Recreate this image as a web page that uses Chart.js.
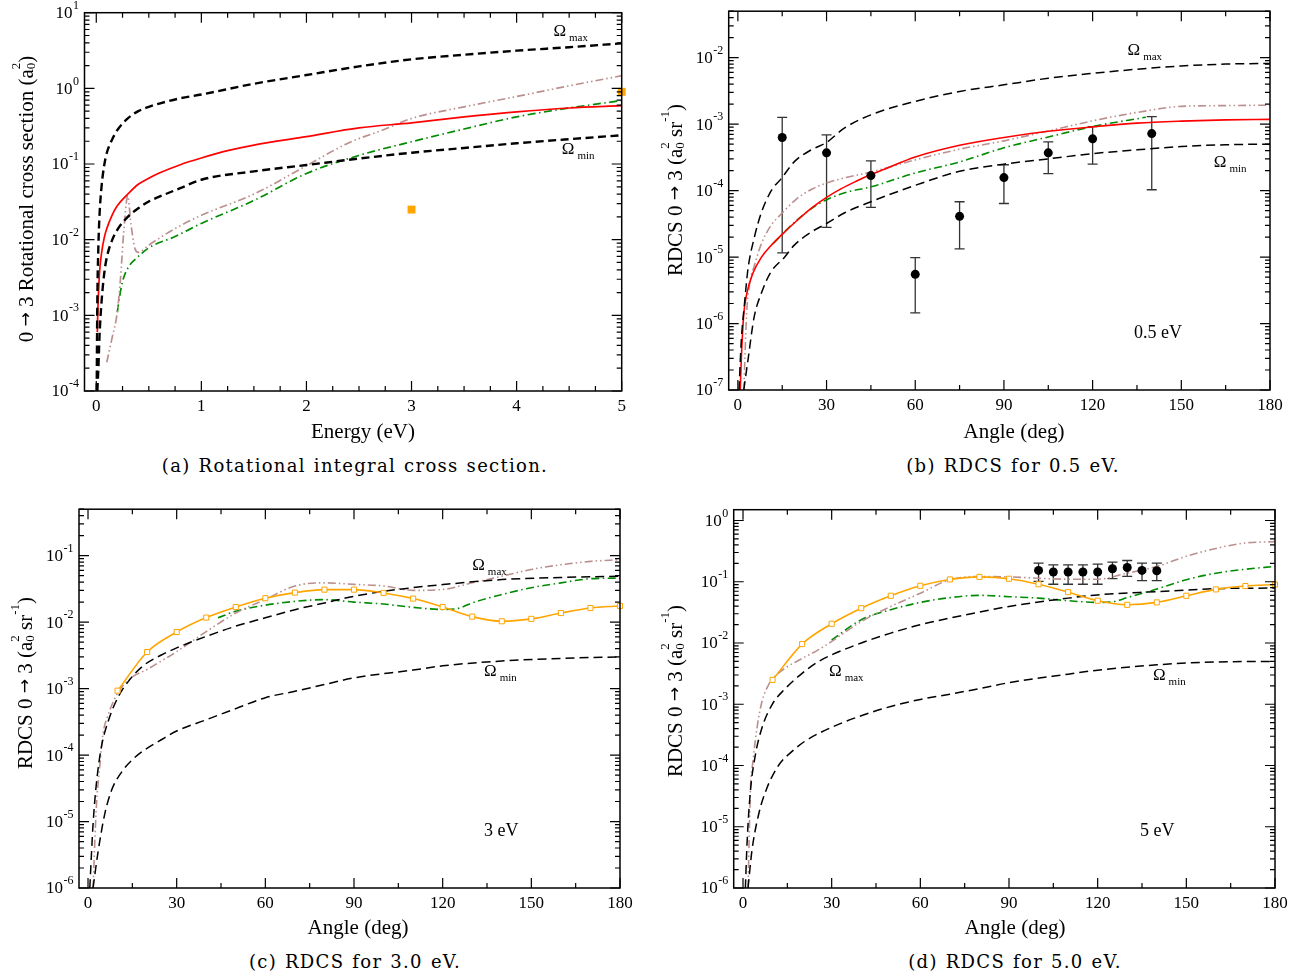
<!DOCTYPE html>
<html>
<head>
<meta charset="utf-8">
<script src="https://cdn.jsdelivr.net/npm/chart.js@4.4.1/dist/chart.umd.min.js"></script>
<style>
  body { margin: 0; background: #fff; width: 1304px; height: 978px; position: relative; overflow: hidden; }
  canvas { position: absolute; }
  .cap { position: absolute; width: 560px; text-align: center; font-family: "DejaVu Serif", serif; font-size: 18px;
         letter-spacing: 1.3px; word-spacing: 1px; color: #000; }
</style>
</head>
<body>
<canvas id="chartA" width="650" height="450" style="left:0;top:0"></canvas>
<canvas id="chartB" width="654" height="450" style="left:650px;top:0"></canvas>
<canvas id="chartC" width="650" height="460" style="left:0;top:490px"></canvas>
<canvas id="chartD" width="654" height="460" style="left:650px;top:490px"></canvas>
<div class="cap" style="left:75px;top:455px">(a) Rotational integral cross section.</div>
<div class="cap" style="left:733px;top:455px">(b) RDCS for 0.5 eV.</div>
<div class="cap" style="left:75px;top:951px">(c) RDCS for 3.0 eV.</div>
<div class="cap" style="left:735px;top:951px">(d) RDCS for 5.0 eV.</div>
<script>
// ---------- (a) integral cross section vs energy ----------
const aXTicks = [0, 1, 2, 3, 4, 5];
const aYTicks = [1e-4, 1e-3, 1e-2, 1e-1, 1e0, 1e1];
const aOmaxE = [0.004, 0.01, 0.02, 0.03, 0.05, 0.075, 0.1, 0.15, 0.2, 0.3, 0.4, 0.5, 0.6, 0.8, 1.0, 1.5, 2.0, 2.5, 3.0, 3.5, 4.0, 4.5, 5.0];
const aOmax = [1e-4, 0.0015, 0.008, 0.02, 0.05, 0.095, 0.14, 0.21, 0.28, 0.40, 0.50, 0.57, 0.63, 0.74, 0.83, 1.15, 1.5, 1.95, 2.42, 2.78, 3.15, 3.5, 3.93];
const aOminE = [0.01, 0.02, 0.03, 0.05, 0.075, 0.1, 0.15, 0.2, 0.3, 0.4, 0.5, 0.6, 0.8, 1.0, 1.5, 2.0, 2.5, 3.0, 3.5, 4.0, 4.5, 5.0];
const aOmin = [1e-4, 2e-4, 5e-4, 0.0015, 0.0035, 0.0058, 0.0098, 0.0135, 0.02, 0.026, 0.032, 0.037, 0.048, 0.062, 0.08, 0.097, 0.118, 0.141, 0.163, 0.188, 0.213, 0.24];
const aRedE = [0.01, 0.015, 0.02, 0.03, 0.05, 0.075, 0.1, 0.15, 0.2, 0.3, 0.4, 0.5, 0.6, 0.8, 1.0, 1.25, 1.5, 2.0, 2.5, 3.0, 3.5, 4.0, 4.5, 5.0];
const aRed = [6e-4, 0.0012, 0.0018, 0.0035, 0.0066, 0.0105, 0.014, 0.021, 0.028, 0.04, 0.054, 0.065, 0.076, 0.098, 0.12, 0.15, 0.178, 0.23, 0.3, 0.35, 0.42, 0.49, 0.55, 0.59];
const aPinkE = [0.1, 0.15, 0.2, 0.23, 0.26, 0.3, 0.33, 0.37, 0.4, 0.5, 0.75, 1.0, 1.5, 2.0, 2.4, 2.75, 3.0, 3.5, 4.0, 4.5, 5.0];
const aPink = [2.4e-4, 5e-4, 0.0011, 0.003, 0.012, 0.038, 0.016, 0.0075, 0.0068, 0.0085, 0.014, 0.021, 0.04, 0.095, 0.19, 0.29, 0.40, 0.57, 0.78, 1.08, 1.47];
const aGreenE = [0.2, 0.22, 0.25, 0.3, 0.4, 0.5, 0.75, 1.0, 1.5, 2.0, 2.5, 3.0, 3.5, 4.0, 4.5, 5.0];
const aGreen = [0.0011, 0.0017, 0.0028, 0.0042, 0.006, 0.0078, 0.011, 0.0164, 0.033, 0.075, 0.13, 0.197, 0.29, 0.42, 0.55, 0.69];
const aSquareE = [3.0, 5.0];
const aSquare = [0.025, 0.9];

// ---------- (b) RDCS 0.5 eV ----------
const angleTicks = [0, 30, 60, 90, 120, 150, 180];
const bYTicks = [1e-7, 1e-6, 1e-5, 1e-4, 1e-3, 1e-2];
const bOmaxA = [0.4, 1.1, 2.25, 3.4, 5.6, 7.9, 11.3, 14.6, 19.2, 24.8, 30, 36, 45, 60, 75, 90, 105, 120, 135, 150, 165, 180];
const bOmax = [1e-7, 5e-7, 2e-6, 6.5e-6, 2e-5, 4.6e-5, 1e-4, 1.5e-4, 2.75e-4, 4.1e-4, 5.3e-4, 8.7e-4, 1.38e-3, 2.2e-3, 3.1e-3, 3.9e-3, 4.9e-3, 5.8e-3, 6.7e-3, 7.5e-3, 8e-3, 8.2e-3];
const bOminA = [2, 3.5, 5.5, 8, 11, 16, 19, 25, 30, 36, 45, 60, 75, 90, 105, 120, 135, 150, 165, 180];
const bOmin = [1e-7, 3e-7, 1.25e-6, 2.9e-6, 5.8e-6, 1.02e-5, 1.5e-5, 2.4e-5, 3.2e-5, 4.6e-5, 6.8e-5, 1.2e-4, 1.95e-4, 2.5e-4, 3.0e-4, 3.6e-4, 4.1e-4, 4.6e-4, 4.9e-4, 5.0e-4];
const bRedA = [0.8, 1.2, 2, 3, 5, 8, 11, 15, 20, 25, 30, 35, 40, 45, 50, 60, 75, 90, 105, 120, 135, 150, 165, 180];
const bRed = [1e-7, 3.2e-7, 1.4e-6, 2.8e-6, 5.6e-6, 1e-5, 1.45e-5, 2.2e-5, 3.55e-5, 5.5e-5, 7.9e-5, 1.07e-4, 1.38e-4, 1.74e-4, 2.14e-4, 3.2e-4, 4.8e-4, 6.3e-4, 7.8e-4, 9.1e-4, 1.035e-3, 1.11e-3, 1.16e-3, 1.18e-3];
const bPinkA = [2, 3, 4, 5.6, 8, 11, 15, 20, 25, 30, 36, 45, 60, 75, 90, 105, 120, 135, 150, 165, 180];
const bPink = [1e-7, 1.5e-6, 4e-6, 7.5e-6, 1.6e-5, 2.9e-5, 4.6e-5, 7.6e-5, 1.05e-4, 1.3e-4, 1.55e-4, 1.9e-4, 2.9e-4, 4.2e-4, 5.6e-4, 7.9e-4, 1.12e-3, 1.5e-3, 1.85e-3, 1.9e-3, 1.93e-3];
const bGreenA = [12, 15, 20, 25, 30, 37, 45, 60, 75, 90, 105, 120, 138];
const bGreen = [1.6e-5, 2.2e-5, 3.6e-5, 5.4e-5, 7.3e-5, 9.5e-5, 1.14e-4, 1.84e-4, 2.7e-4, 4.4e-4, 6.4e-4, 9.2e-4, 1.27e-3];
const bExpA = [15, 30, 45, 60, 75, 90, 105, 120, 140];
const bExp = [6.3e-4, 3.7e-4, 1.68e-4, 5.5e-6, 4.1e-5, 1.57e-4, 3.7e-4, 6.0e-4, 7.2e-4];
const bExpLo = [1.16e-5, 2.8e-5, 5.6e-5, 1.45e-6, 1.33e-5, 6.4e-5, 1.8e-4, 2.5e-4, 1.03e-4];
const bExpHi = [1.26e-3, 6.9e-4, 2.8e-4, 9.8e-6, 6.8e-5, 2.45e-4, 5.4e-4, 9.2e-4, 1.3e-3];

// ---------- (c) RDCS 3.0 eV ----------
const cYTicks = [1e-6, 1e-5, 1e-4, 1e-3, 1e-2, 1e-1];
const sqA = [10, 20, 30, 40, 50, 60, 70, 80, 90, 100, 110, 120, 130, 140, 150, 160, 170, 180];
const cOrange = [9.3e-4, 3.55e-3, 7.1e-3, 0.0117, 0.0169, 0.0229, 0.0278, 0.0308, 0.0308, 0.0275, 0.0226, 0.0169, 0.0121, 0.0103, 0.0112, 0.0137, 0.0163, 0.0175];
const cOmaxA = [0.6, 1.7, 2.8, 4.5, 6.8, 10, 14.6, 19.2, 24.8, 30, 40, 50, 60, 70, 80, 90, 100, 110, 120, 140, 160, 180];
const cOmax = [1e-6, 9e-6, 3.6e-5, 1.3e-4, 3.2e-4, 7.2e-4, 1.45e-3, 2.3e-3, 3.2e-3, 4.1e-3, 6.1e-3, 8.7e-3, 0.0116, 0.0154, 0.0194, 0.0245, 0.029, 0.033, 0.0367, 0.0436, 0.047, 0.049];
const cOminA = [1.7, 3.4, 5.6, 7.9, 11.3, 15, 19.2, 24.8, 30, 40, 50, 60, 70, 80, 90, 110, 120, 140, 160, 180];
const cOmin = [1e-6, 3.5e-6, 1.26e-5, 2.9e-5, 5.5e-5, 8.5e-5, 1.2e-4, 1.7e-4, 2.3e-4, 3.4e-4, 5e-4, 7.3e-4, 9.1e-4, 1.15e-3, 1.45e-3, 1.9e-3, 2.2e-3, 2.6e-3, 2.85e-3, 3.0e-3];
const cPinkA = [1.7, 2.8, 4, 5, 6.8, 10, 14.6, 20, 24.8, 30, 40, 50, 60, 70, 80, 90, 100, 110, 120, 130, 140, 150, 160, 170, 180];
const cPink = [1e-6, 1.6e-5, 7e-5, 2e-4, 4e-4, 8.5e-4, 1.45e-3, 1.94e-3, 2.6e-3, 3.6e-3, 7.2e-3, 0.0137, 0.022, 0.035, 0.039, 0.037, 0.035, 0.030, 0.031, 0.039, 0.049, 0.062, 0.073, 0.082, 0.087];
const cGreenA = [44, 50, 60, 70, 80, 90, 100, 110, 120, 125, 130, 140, 150, 160, 170, 180];
const cGreen = [0.0116, 0.0146, 0.018, 0.0205, 0.0218, 0.020, 0.0187, 0.0167, 0.0155, 0.016, 0.0195, 0.026, 0.033, 0.039, 0.045, 0.046];

// ---------- (d) RDCS 5.0 eV ----------
const dYTicks = [1e-6, 1e-5, 1e-4, 1e-3, 1e-2, 1e-1, 1e0];
const dOrange = [2.5e-3, 9.6e-3, 0.0206, 0.037, 0.059, 0.086, 0.109, 0.120, 0.112, 0.091, 0.0675, 0.049, 0.042, 0.046, 0.059, 0.075, 0.085, 0.090];
const dExpA = [100, 105, 110, 115, 120, 125, 130, 135, 140];
const dExp = [0.153, 0.144, 0.144, 0.144, 0.144, 0.163, 0.171, 0.153, 0.151];
const dExpLo = [0.101, 0.091, 0.091, 0.091, 0.091, 0.112, 0.122, 0.104, 0.104];
const dExpHi = [0.201, 0.189, 0.189, 0.189, 0.194, 0.209, 0.222, 0.201, 0.201];
const dOmaxA = [0.8, 1.4, 2.5, 4.2, 6.4, 9.8, 14.3, 20, 25.6, 30, 40, 50, 60, 70, 80, 90, 110, 120, 140, 160, 180];
const dOmax = [1e-6, 5.8e-6, 3.8e-5, 1.5e-4, 4.1e-4, 9.8e-4, 1.8e-3, 3.2e-3, 5e-3, 6.4e-3, 0.01, 0.0145, 0.0199, 0.0255, 0.032, 0.0395, 0.054, 0.061, 0.069, 0.077, 0.079];
const dOminA = [1.7, 3, 5.3, 8.1, 12, 16.6, 21, 30, 40, 50, 60, 70, 80, 90, 110, 120, 140, 160, 180];
const dOmin = [1e-6, 4e-6, 1.6e-5, 4.3e-5, 1.0e-4, 1.7e-4, 2.5e-4, 4.2e-4, 6.5e-4, 9.2e-4, 1.2e-3, 1.46e-3, 1.8e-3, 2.25e-3, 3.1e-3, 3.6e-3, 4.4e-3, 4.9e-3, 5.0e-3];
const dPinkA = [1.7, 2.5, 3.4, 4.7, 6.4, 8.7, 10, 14.3, 20, 25.6, 30, 40, 50, 60, 70, 80, 90, 100, 110, 120, 130, 140, 150, 160, 170, 180];
const dPink = [1e-6, 3.8e-5, 1.2e-4, 4e-4, 1.1e-3, 2.1e-3, 2.6e-3, 3.9e-3, 5.6e-3, 7.8e-3, 0.0106, 0.0224, 0.0395, 0.065, 0.108, 0.122, 0.12, 0.114, 0.11, 0.11, 0.138, 0.178, 0.26, 0.35, 0.43, 0.45];
const dGreenA = [30, 40, 50, 60, 70, 80, 90, 100, 110, 120, 125, 130, 140, 150, 160, 170, 180];
const dGreen = [0.0112, 0.024, 0.035, 0.046, 0.055, 0.060, 0.057, 0.054, 0.049, 0.046, 0.047, 0.055, 0.076, 0.108, 0.138, 0.16, 0.178];

// ---------- styles ----------
const SERIF = '"Liberation Serif", "Times New Roman", serif';
const RED = '#ff0000', PINK = '#bc8f8f', GREEN = '#008b00', ORANGE = '#ffa500';
const DASH_PINK = [8, 3, 1.5, 3, 1.5, 3];
const DASH_GREEN = [8, 3.5, 1.5, 3.5];

// axis titles as pieces: s = font size, dy = baseline shift, stack = start under the previous piece
const ARROW = { t: '\u2192', f: '"DejaVu Sans"', s: 17 };
const RDCS_TITLE = [{ t: 'RDCS 0 ' }, ARROW, { t: ' 3 (a' }, { t: '0', s: 13, dy: 5 }, { t: '2', s: 13, dy: -10, stack: true },
                    { t: ' sr' }, { t: '-1', s: 13, dy: -10 }, { t: ')' }];
const ICS_TITLE = [{ t: '0 ' }, ARROW, { t: ' 3 Rotational cross section (a' }, { t: '0', s: 13, dy: 5 },
                   { t: '2', s: 13, dy: -10, stack: true }, { t: ')' }];

const pts = (xs, ys) => xs.map((x, i) => ({ x, y: ys[i] }));

function curve(xs, ys, color, width, dash) {
    return { data: pts(xs, ys), borderColor: color, borderWidth: width, borderDash: dash || [],
             pointRadius: 0, fill: false, cubicInterpolationMode: 'monotone' };
}
function markers(xs, ys, style, r, extra) {
    return Object.assign({ data: pts(xs, ys), showLine: false, pointStyle: style, pointRadius: r,
             pointBorderWidth: 0, backgroundColor: '#000', borderColor: '#000' }, extra || {});
}
function squaresLine(xs, ys) {
    return { data: pts(xs, ys), borderColor: ORANGE, borderWidth: 1.6, pointStyle: 'rect', pointRadius: 3.6,
             pointBorderWidth: 1, pointBorderColor: ORANGE, pointBackgroundColor: '#fff', fill: false,
             cubicInterpolationMode: 'monotone', clip: false };
}

// inward ticks on all four sides, plus the frame
const frameTicks = {
    id: 'frameTicks',
    afterDatasetsDraw(chart, args, opts) {
        const { ctx, chartArea: a, scales: { x, y } } = chart;
        ctx.save();
        ctx.strokeStyle = '#000';
        ctx.lineWidth = 1.2;
        ctx.beginPath();
        const start = Math.ceil(x.min / opts.xMinor - 1e-9) * opts.xMinor;
        for (let v = start; v <= x.max + 1e-9; v += opts.xMinor) {
            const px = x.getPixelForValue(v);
            const major = Math.abs(v / opts.xMajor - Math.round(v / opts.xMajor)) < 1e-6;
            const len = major ? 10 : 5;
            ctx.moveTo(px, a.bottom); ctx.lineTo(px, a.bottom - len);
            ctx.moveTo(px, a.top); ctx.lineTo(px, a.top + len);
        }
        for (let e = Math.floor(Math.log10(y.min)); e <= Math.ceil(Math.log10(y.max)); e++) {
            for (let k = 1; k <= 9; k++) {
                const v = k * Math.pow(10, e);
                if (v < y.min * 0.999 || v > y.max * 1.001) continue;
                const py = y.getPixelForValue(v);
                const len = k === 1 ? 10 : 5;
                ctx.moveTo(a.left, py); ctx.lineTo(a.left + len, py);
                ctx.moveTo(a.right, py); ctx.lineTo(a.right - len, py);
            }
        }
        ctx.stroke();
        ctx.lineWidth = 1.5;
        ctx.strokeRect(a.left, a.top, a.right - a.left, a.bottom - a.top);
        ctx.restore();
    }
};

// vertical error bars with caps, from the dataset's errLo / errHi arrays
const errorBars = {
    id: 'errorBars',
    beforeDatasetsDraw(chart) {
        const { ctx, scales: { x, y } } = chart;
        ctx.save();
        ctx.strokeStyle = '#333';
        ctx.lineWidth = 1.3;
        chart.data.datasets.forEach(ds => {
            if (!ds.errLo) return;
            ds.data.forEach((p, i) => {
                const px = x.getPixelForValue(p.x);
                const lo = y.getPixelForValue(ds.errLo[i]);
                const hi = y.getPixelForValue(ds.errHi[i]);
                ctx.beginPath();
                ctx.moveTo(px, lo); ctx.lineTo(px, hi);
                ctx.moveTo(px - 5, lo); ctx.lineTo(px + 5, lo);
                ctx.moveTo(px - 5, hi); ctx.lineTo(px + 5, hi);
                ctx.stroke();
            });
        });
        ctx.restore();
    }
};

function pieceFont(p) { return `${p.s || 21}px ${p.f || SERIF}`; }
function drawPieces(ctx, pieces, cx, cy, rot) {
    // measure first so the whole title is centred on (cx, cy)
    let w = 0, prevX = 0, prevW = 0;
    const xs = pieces.map(p => {
        ctx.font = pieceFont(p);
        const pw = ctx.measureText(p.t).width;
        const px = p.stack ? prevX : prevX + prevW;
        prevX = px; prevW = p.stack ? Math.max(prevW, pw) : pw;
        w = Math.max(w, px + pw);
        return px;
    });
    ctx.save();
    ctx.translate(cx, cy);
    ctx.rotate(rot);
    ctx.textBaseline = 'middle';
    ctx.textAlign = 'left';
    pieces.forEach((p, i) => {
        ctx.font = pieceFont(p);
        ctx.fillText(p.t, xs[i] - w / 2, p.dy || 0);
    });
    ctx.restore();
}

// tick labels 10^n, axis titles, Omega labels and energy labels
const texts = {
    id: 'texts',
    afterDraw(chart, args, opts) {
        const { ctx, chartArea: a, scales: { x, y } } = chart;
        ctx.save();
        ctx.fillStyle = '#000';
        opts.yTicks.forEach(v => {
            const py = y.getPixelForValue(v);
            const exp = String(Math.round(Math.log10(v)));
            ctx.font = `17px ${SERIF}`;
            const w10 = ctx.measureText('10').width;
            ctx.font = `12px ${SERIF}`;
            const we = ctx.measureText(exp).width;
            const x0 = a.left - 6 - we - w10;
            ctx.textBaseline = 'middle';
            ctx.textAlign = 'left';
            ctx.font = `17px ${SERIF}`;
            ctx.fillText('10', x0, py + 1);
            ctx.font = `12px ${SERIF}`;
            ctx.fillText(exp, x0 + w10 + 0.5, py - 7);
        });
        drawPieces(ctx, [{ t: opts.xTitle }], opts.xTitleAt[0], opts.xTitleAt[1], 0);
        drawPieces(ctx, opts.yTitle, opts.yTitleAt[0], opts.yTitleAt[1], -Math.PI / 2);
        ctx.textBaseline = 'alphabetic';
        (opts.notes || []).forEach(n => {
            const px = x.getPixelForValue(n.x);
            const py = y.getPixelForValue(n.y);
            ctx.font = `${n.size || 17}px ${SERIF}`;
            ctx.fillText(n.text, px, py);
            if (n.sub) {
                const w = ctx.measureText(n.text).width;
                ctx.font = `11px ${SERIF}`;
                ctx.fillText(n.sub, px + w + 3, py + 5);
            }
        });
        ctx.restore();
    }
};

function makeChart(id, cfg) {
    return new Chart(document.getElementById(id), {
        type: 'line',
        data: { datasets: cfg.datasets },
        options: {
            responsive: false,
            animation: false,
            layout: { padding: cfg.pad },
            plugins: {
                legend: { display: false },
                tooltip: { enabled: false },
                frameTicks: { xMajor: cfg.xMajor, xMinor: cfg.xMinor },
                texts: { yTicks: cfg.yTicks, notes: cfg.notes, xTitle: cfg.xTitle, xTitleAt: cfg.xTitleAt,
                         yTitle: cfg.yTitle, yTitleAt: cfg.yTitleAt }
            },
            scales: {
                x: {
                    type: 'linear', min: cfg.xMin, max: cfg.xMax,
                    grid: { display: false, drawTicks: false }, border: { display: false },
                    afterBuildTicks: s => { s.ticks = cfg.xTicks.map(v => ({ value: v })); },
                    afterFit: s => { s.height = cfg.xH; },
                    ticks: { font: { family: SERIF, size: 17 }, color: '#000', padding: 5, maxRotation: 0,
                             autoSkip: false, callback: v => String(v) }
                },
                y: {
                    type: 'logarithmic', min: cfg.yMin, max: cfg.yMax,
                    grid: { display: false, drawTicks: false }, border: { display: false },
                    afterBuildTicks: s => { s.ticks = cfg.yTicks.map(v => ({ value: v })); },
                    afterFit: s => { s.width = cfg.yW; },
                    ticks: { display: false }
                }
            }
        },
        plugins: [errorBars, frameTicks, texts]
    });
}

makeChart('chartA', {
    pad: { left: 0, top: 12.7, right: 28.3, bottom: 6 }, yW: 84.5, xH: 53,
    xMin: -0.112, xMax: 5, xTicks: aXTicks, xMajor: 1, xMinor: 0.25,
    yMin: 1e-4, yMax: 10, yTicks: aYTicks,
    xTitle: 'Energy (eV)', xTitleAt: [363, 432], yTitle: ICS_TITLE, yTitleAt: [27, 199],
    notes: [
        { x: 4.35, y: 4.9, text: '\u03a9', sub: 'max' },
        { x: 4.43, y: 0.136, text: '\u03a9', sub: 'min' }
    ],
    datasets: [
        markers(aSquareE, aSquare, 'rect', 5.6, { backgroundColor: ORANGE, borderColor: ORANGE, clip: false }),
        curve(aOmaxE, aOmax, '#000', 2.4, [8, 4.5]),
        curve(aOminE, aOmin, '#000', 2.4, [8, 4.5]),
        curve(aRedE, aRed, RED, 1.7),
        curve(aPinkE, aPink, PINK, 1.7, DASH_PINK),
        curve(aGreenE, aGreen, GREEN, 1.7, DASH_GREEN)
    ]
});

makeChart('chartB', {
    pad: { left: 0, top: 11.2, right: 34, bottom: 6 }, yW: 78.7, xH: 54,
    xMin: -3.1, xMax: 180, xTicks: angleTicks, xMajor: 30, xMinor: 15,
    yMin: 1e-7, yMax: 0.05, yTicks: bYTicks,
    xTitle: 'Angle (deg)', xTitleAt: [364, 432], yTitle: RDCS_TITLE, yTitleAt: [26, 190],
    notes: [
        { x: 131.8, y: 0.011, text: '\u03a9', sub: 'max' },
        { x: 161, y: 2.26e-4, text: '\u03a9', sub: 'min' },
        { x: 134, y: 6e-7, text: '0.5 eV', size: 18 }
    ],
    datasets: [
        Object.assign(markers(bExpA, bExp, 'circle', 4.5), { errLo: bExpLo, errHi: bExpHi }),
        curve(bOmaxA, bOmax, '#000', 1.5, [9, 5]),
        curve(bOminA, bOmin, '#000', 1.5, [9, 5]),
        curve(bRedA, bRed, RED, 1.6),
        curve(bPinkA, bPink, PINK, 1.6, DASH_PINK),
        curve(bGreenA, bGreen, GREEN, 1.6, DASH_GREEN)
    ]
});

makeChart('chartC', {
    pad: { left: 0, top: 19.2, right: 30, bottom: 10 }, yW: 79, xH: 52,
    xMin: -3.05, xMax: 180, xTicks: angleTicks, xMajor: 30, xMinor: 15,
    yMin: 1e-6, yMax: 0.5, yTicks: cYTicks,
    xTitle: 'Angle (deg)', xTitleAt: [358, 438], yTitle: RDCS_TITLE, yTitleAt: [26, 193],
    notes: [
        { x: 130, y: 0.061, text: '\u03a9', sub: 'max' },
        { x: 134, y: 1.53e-3, text: '\u03a9', sub: 'min' },
        { x: 134, y: 6e-6, text: '3 eV', size: 18 }
    ],
    datasets: [
        squaresLine(sqA, cOrange),
        curve(cOmaxA, cOmax, '#000', 1.5, [9, 5]),
        curve(cOminA, cOmin, '#000', 1.5, [9, 5]),
        curve(cPinkA, cPink, PINK, 1.6, DASH_PINK),
        curve(cGreenA, cGreen, GREEN, 1.6, DASH_GREEN)
    ]
});

makeChart('chartD', {
    pad: { left: 0, top: 19.7, right: 29, bottom: 10 }, yW: 83.7, xH: 52,
    xMin: -3.15, xMax: 180, xTicks: angleTicks, xMajor: 30, xMinor: 15,
    yMin: 1e-6, yMax: 1.5, yTicks: dYTicks,
    xTitle: 'Angle (deg)', xTitleAt: [365, 438], yTitle: RDCS_TITLE, yTitleAt: [26, 201],
    notes: [
        { x: 29.1, y: 2.9e-3, text: '\u03a9', sub: 'max' },
        { x: 138.7, y: 2.5e-3, text: '\u03a9', sub: 'min' },
        { x: 134.3, y: 7e-6, text: '5 eV', size: 18 }
    ],
    datasets: [
        Object.assign(markers(dExpA, dExp, 'circle', 4.5), { errLo: dExpLo, errHi: dExpHi }),
        squaresLine(sqA, dOrange),
        curve(dOmaxA, dOmax, '#000', 1.5, [9, 5]),
        curve(dOminA, dOmin, '#000', 1.5, [9, 5]),
        curve(dPinkA, dPink, PINK, 1.6, DASH_PINK),
        curve(dGreenA, dGreen, GREEN, 1.6, DASH_GREEN)
    ]
});
</script>
</body>
</html>
